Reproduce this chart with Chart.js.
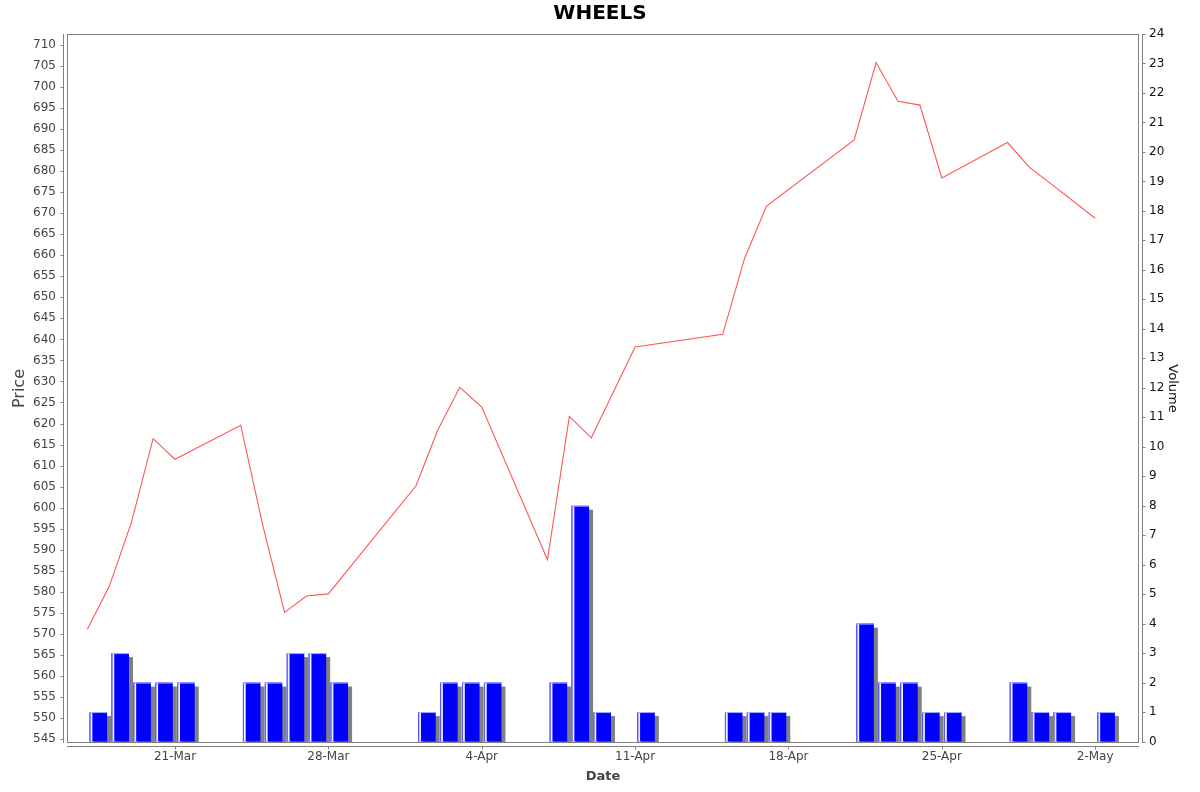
<!DOCTYPE html>
<html>
<head>
<meta charset="utf-8">
<script src="https://cdn.jsdelivr.net/npm/chart.js@4.4.1/dist/chart.umd.min.js"></script>
<style>
  html, body { margin: 0; padding: 0; background: #ffffff; }
  #wrap { width: 1200px; height: 792px; }
</style>
</head>
<body>
<div id="wrap"><canvas id="c" width="1200" height="792"></canvas></div>
<script>
// ---- data ----
const dates = [
  "2025-03-17","2025-03-18","2025-03-19","2025-03-20","2025-03-21",
  "2025-03-24","2025-03-25","2025-03-26","2025-03-27","2025-03-28",
  "2025-04-01","2025-04-02","2025-04-03","2025-04-04",
  "2025-04-07","2025-04-08","2025-04-09","2025-04-11",
  "2025-04-15","2025-04-16","2025-04-17",
  "2025-04-21","2025-04-22","2025-04-23","2025-04-24","2025-04-25",
  "2025-04-28","2025-04-29","2025-04-30","2025-05-02"
];
const prices = [
  571.1, 581.3, 596.3, 616.4, 611.5,
  619.6, 595.9, 575.1, 579.0, 579.5,
  605.2, 618.5, 628.6, 623.9,
  587.6, 621.7, 616.6, 638.2,
  641.2, 659.3, 671.7,
  687.4, 705.8, 696.6, 695.7, 678.4,
  686.8, 680.9, 676.9, 668.8
];
const volumes = [
  1, 3, 2, 2, 2,
  2, 2, 3, 3, 2,
  1, 2, 2, 2,
  2, 8, 1, 1,
  1, 1, 1,
  4, 2, 2, 1, 1,
  2, 1, 1, 1
];
const dateTicks = ["2025-03-21","2025-03-28","2025-04-04","2025-04-11","2025-04-18","2025-04-25","2025-05-02"];
const monthNames = ["Jan","Feb","Mar","Apr","May","Jun","Jul","Aug","Sep","Oct","Nov","Dec"];
const chartTitle = "WHEELS";
const priceLabel = "Price";
const volumeLabel = "Volume";
const dateLabel = "Date";

// ---- helpers ----
const toDay = s => Date.UTC(+s.slice(0, 4), +s.slice(5, 7) - 1, +s.slice(8, 10)) / 86400000;
const fmtDay = v => { const d = new Date(Math.round(v) * 86400000); return d.getUTCDate() + "-" + monthNames[d.getUTCMonth()]; };
const days = dates.map(toDay);

const priceData = days.map((d, i) => ({ x: d, y: prices[i] }));
const volumeData = days.map((d, i) => ({ x: d + 0.5, y: volumes[i] })); // bar spans the trading day

const FONT = "'DejaVu Sans', 'Liberation Sans', sans-serif";
const AXIS = "#808080";

const decor = {
  id: 'decor',
  beforeDatasetDraw(chart, args) {
    if (args.index !== 1) return;
    const ctx = chart.ctx, a = chart.chartArea;
    ctx.save();
    ctx.beginPath();
    ctx.rect(a.left, a.top, a.right - a.left, a.bottom - a.top);
    ctx.clip();
    ctx.fillStyle = '#808080';
    args.meta.data.forEach(el => {
      const p = el.getProps(['x', 'y', 'base', 'width'], true);
      ctx.fillRect(p.x - p.width / 2 + 4, p.y + 4, p.width, p.base - p.y);
    });
    ctx.restore();
  },
  afterDatasetDraw(chart, args) {
    if (args.index !== 1) return;
    const ctx = chart.ctx;
    ctx.save();
    args.meta.data.forEach(el => {
      const p = el.getProps(['x', 'y', 'base', 'width'], true);
      const l = p.x - p.width / 2;
      const h = p.base - p.y;
      ctx.fillStyle = 'rgba(90,90,255,1)';
      ctx.fillRect(l, p.y, 1, h);
      ctx.fillStyle = 'rgba(240,240,255,1)';
      ctx.fillRect(l + 1, p.y, 1.8, h);
      ctx.fillStyle = 'rgba(170,170,255,1)';
      ctx.fillRect(l, p.y, p.width, 1);
    });
    ctx.restore();
  },
  afterDraw(chart) {
    const ctx = chart.ctx, a = chart.chartArea;
    const sx = chart.scales.x, sp = chart.scales.yP, sv = chart.scales.yV;
    ctx.save();
    ctx.strokeStyle = AXIS;
    ctx.lineWidth = 1;
    // plot outline
    ctx.strokeRect(Math.round(a.left) + 0.5, Math.round(a.top) + 0.5,
                   Math.round(a.right - a.left) - 1, Math.round(a.bottom - a.top) - 1);
    ctx.beginPath();
    // left axis
    const lx = Math.round(a.left) - 3.5;
    ctx.moveTo(lx, a.top); ctx.lineTo(lx, a.bottom);
    sp.ticks.forEach(t => { const y = Math.round(sp.getPixelForValue(t.value)) + 0.5; ctx.moveTo(lx - 3, y); ctx.lineTo(lx, y); });
    // right axis
    const rx = Math.round(a.right) + 3.5;
    ctx.moveTo(rx, a.top); ctx.lineTo(rx, a.bottom);
    sv.ticks.forEach(t => { const y = Math.round(sv.getPixelForValue(t.value)) + 0.5; ctx.moveTo(rx, y); ctx.lineTo(rx + 3, y); });
    // bottom axis
    const by = Math.round(a.bottom) + 3.5;
    ctx.moveTo(a.left, by); ctx.lineTo(a.right, by);
    sx.ticks.forEach(t => { const x = Math.round(sx.getPixelForValue(t.value)) + 0.5; ctx.moveTo(x, by); ctx.lineTo(x, by + 3); });
    ctx.stroke();
    ctx.restore();
  }
};

new Chart(document.getElementById('c'), {
  type: 'bar',
  data: {
    datasets: [
      {
        type: 'line',
        label: priceLabel,
        data: priceData,
        yAxisID: 'yP',
        xAxisID: 'x',
        borderColor: '#ff5555',
        borderWidth: 1.1,
        pointRadius: 0,
        tension: 0,
        fill: false
      },
      {
        type: 'bar',
        label: volumeLabel,
        data: volumeData,
        yAxisID: 'yV',
        xAxisID: 'x',
        backgroundColor: '#0000ff',
        borderWidth: 0,
        barPercentage: 0.8,
        categoryPercentage: 1.0
      }
    ]
  },
  options: {
    responsive: false,
    animation: false,
    devicePixelRatio: 1,
    layout: { padding: 0 },
    plugins: {
      legend: { display: false },
      tooltip: { enabled: false },
      title: {
        display: true,
        text: chartTitle,
        color: '#000000',
        font: { family: FONT, size: 20, weight: 'bold' },
        padding: { top: 2, bottom: 8 }
      }
    },
    scales: {
      x: {
        type: 'linear',
        position: 'bottom',
        offset: false,
        min: toDay(dates[0]) - 0.93,
        max: toDay(dates[dates.length - 1]) + 2.0,
        grid: { display: false, drawTicks: false, offset: false },
        border: { display: false },
        afterBuildTicks: s => { s.ticks = dateTicks.map(d => ({ value: toDay(d) })); },
        afterFit: s => { s.height = 49; },
        ticks: {
          autoSkip: false, maxRotation: 0, padding: 7,
          color: '#444444',
          font: { family: FONT, size: 12 },
          callback: v => fmtDay(v)
        },
        title: {
          display: true, text: dateLabel, color: '#444444',
          font: { family: FONT, size: 13, weight: 'bold' },
          padding: { top: 0, bottom: 8 }
        }
      },
      yP: {
        type: 'linear',
        position: 'left',
        min: 544.05,
        max: 712.6,
        grid: { display: false, drawTicks: false },
        border: { display: false },
        afterFit: s => { s.width = 67; },
        ticks: {
          stepSize: 5, includeBounds: false, autoSkip: false, padding: 11,
          color: '#444444',
          font: { family: FONT, size: 12 }
        },
        title: {
          display: true, text: priceLabel, color: '#444444',
          font: { family: FONT, size: 16 },
          padding: { top: 10, bottom: 0 }
        }
      },
      yV: {
        type: 'linear',
        position: 'right',
        min: -0.05,
        max: 24,
        grid: { display: false, drawTicks: false },
        border: { display: false },
        afterFit: s => { s.width = 61; },
        ticks: {
          stepSize: 1, includeBounds: false, autoSkip: false, padding: 10,
          color: '#111111',
          font: { family: FONT, size: 12 }
        },
        title: {
          display: true, text: volumeLabel, color: '#111111',
          font: { family: FONT, size: 13 },
          padding: { top: 20, bottom: 0 }
        }
      }
    }
  },
  plugins: [decor]
});
</script>
</body>
</html>
